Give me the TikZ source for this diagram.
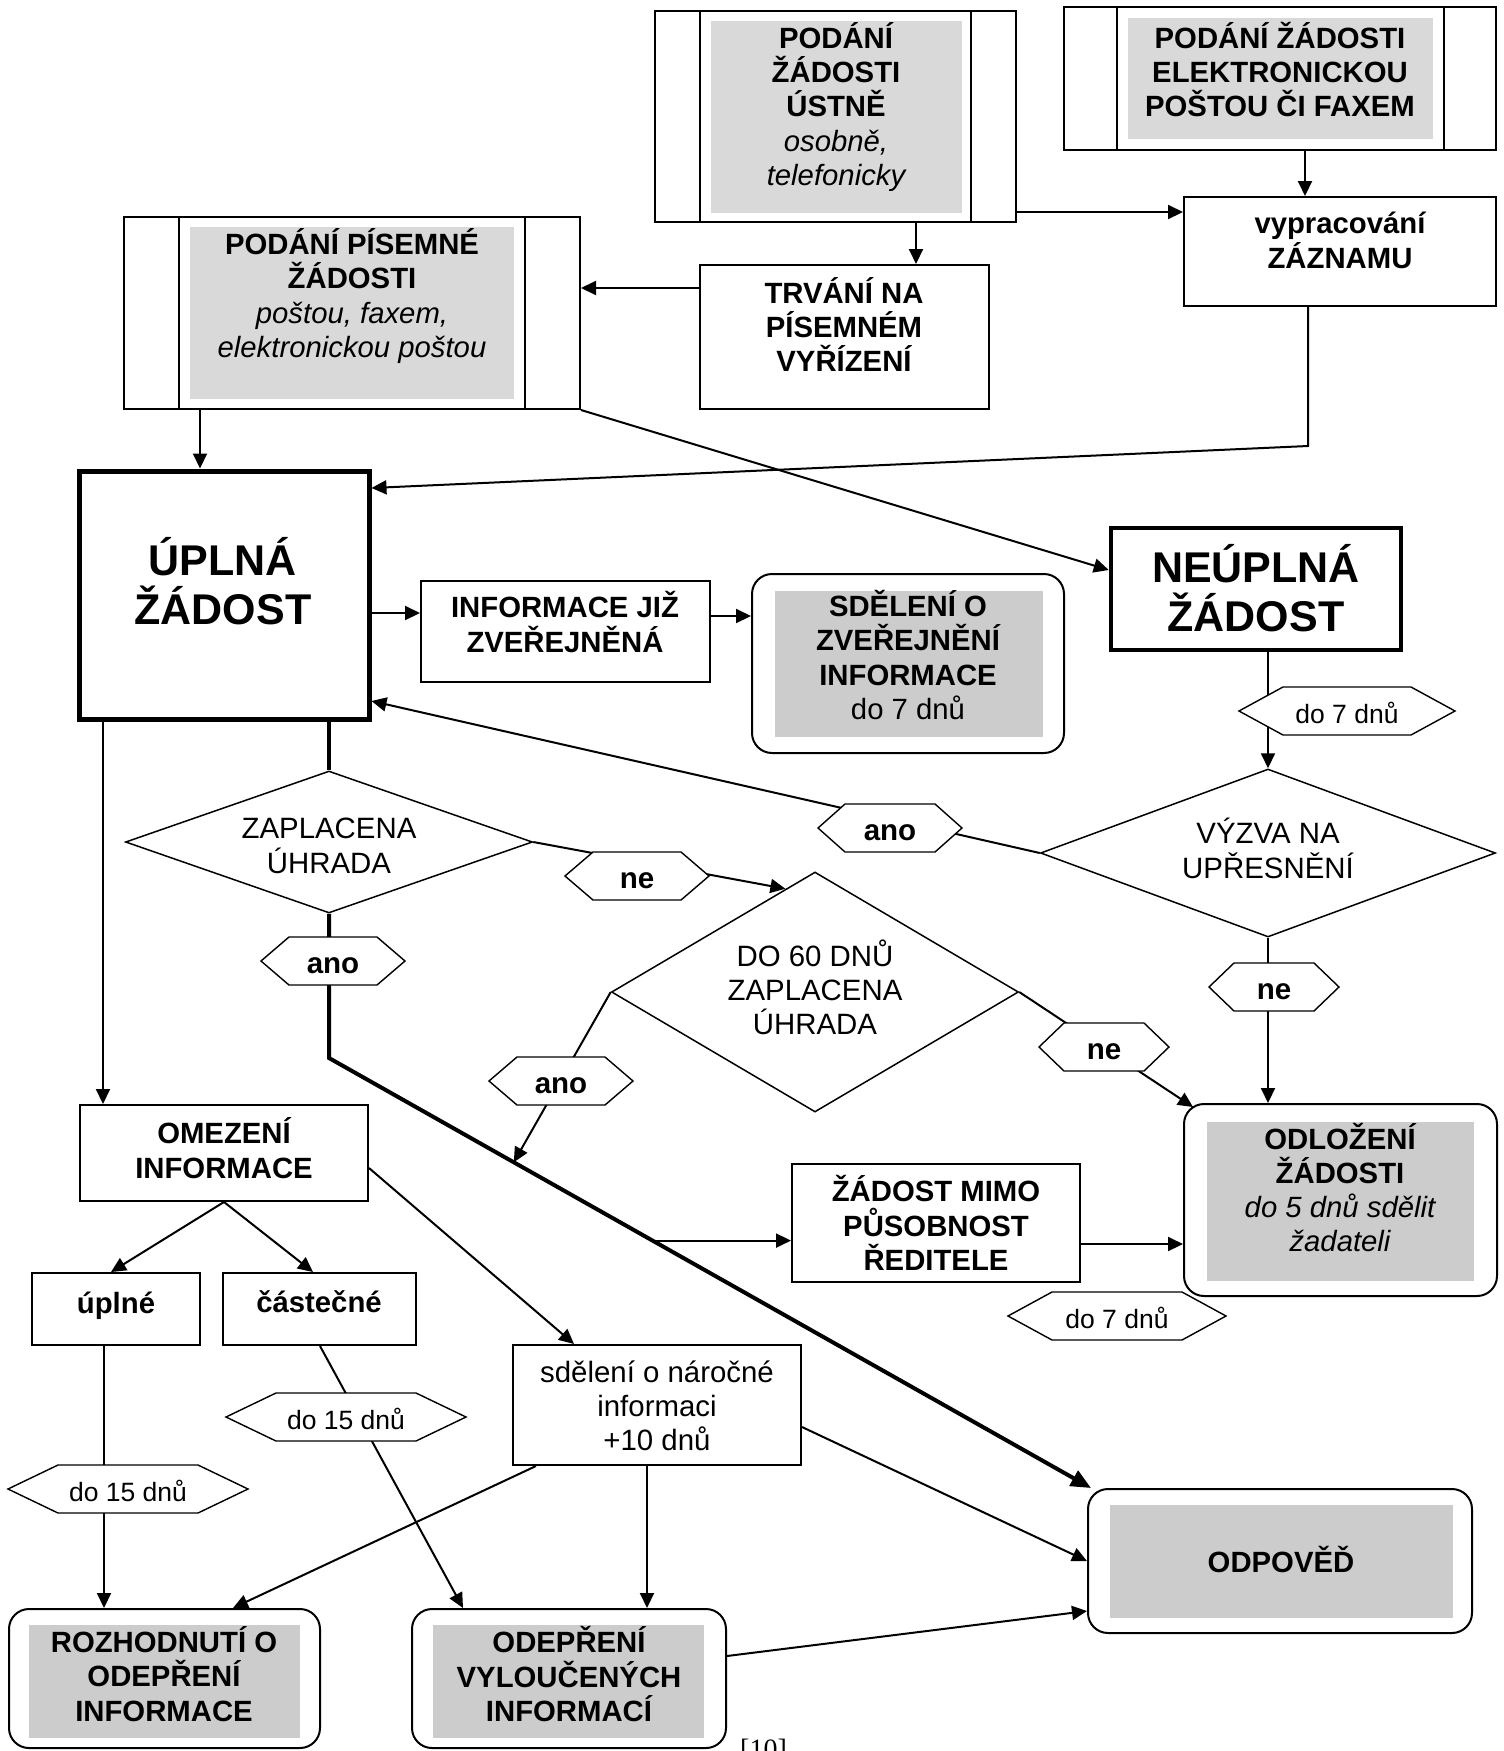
\documentclass[tikz,border=0pt]{standalone}
\usepackage{fontspec}
\setmainfont{Liberation Sans}
\newfontfamily\refserif{Liberation Serif}
\usetikzlibrary{arrows.meta,shapes.geometric,fit,calc}
\definecolor{graya}{HTML}{D9D9D9}
\definecolor{grayb}{HTML}{CCCCCC}
\tikzset{
  frame/.style={draw, line width=2pt, inner sep=0pt},
  rframe/.style={frame, rounded corners=20pt},
  heavyframe/.style={draw, line width=5pt, inner sep=0pt},
  bar/.style={line width=2pt},
  txt/.style={align=center, inner sep=0pt, font=\fontsize{29.3}{34.3}\selectfont\bfseries},
  rtxt/.style={align=center, inner sep=0pt, font=\fontsize{29.4}{34.3}\selectfont},
  bigtxt/.style={align=center, inner sep=0pt, font=\fontsize{43}{49}\selectfont\bfseries},
  hextxt/.style={inner sep=0pt, yshift=-2pt, font=\fontsize{26.5}{32}\selectfont},
  hexbold/.style={inner sep=0pt, yshift=-5pt, font=\fontsize{29.5}{34}\selectfont\bfseries},
  decision/.style={draw, diamond, line width=1.5pt, inner sep=0pt},
  arr/.style={line width=2pt, -{Triangle[length=15pt,width=14pt]}},
  fat/.style={line width=4pt},
  fatarr/.style={line width=4pt, -{Triangle[length=20pt,width=17pt]}},
  hexline/.style={draw, fill=white, line width=1.4pt}
}
\newcommand{\hexa}[7]{%
  \path[hexline] ({#2-#4},#3) -- ({#2-#4+#5},{#3-24}) -- ({#2+#4-#5},{#3-24}) -- ({#2+#4},#3) -- ({#2+#4-#5},{#3+24}) -- ({#2-#4+#5},{#3+24}) -- cycle;
  \node[#6] (#1) at (#2,#3) {#7};}
\begin{document}
\begin{tikzpicture}[x=1pt,y=-1pt]
\fill[white] (0,0) rectangle (1504,1751);
\useasboundingbox (0,0) rectangle (1504,1751);

% ---------- gray fills ----------
\fill[graya] (711,21) rectangle (962,213);
\fill[graya] (1128,18) rectangle (1433,139);
\fill[graya] (190,227) rectangle (514,399);
\fill[grayb] (775,591) rectangle (1043,737);
\fill[grayb] (1207,1122) rectangle (1474,1281);
\fill[grayb] (1110,1505) rectangle (1453,1618);
\fill[grayb] (29,1625) rectangle (300,1738);
\fill[grayb] (433,1625) rectangle (704,1738);

% ---------- frames ----------
\node[frame, fit={(655,11) (1016,222)}] (ustne) {};
\draw[bar] (700,11) -- (700,222); \draw[bar] (971,11) -- (971,222);
\node[frame, fit={(1064,7) (1496,150)}] (elektro) {};
\draw[bar] (1117,7) -- (1117,150); \draw[bar] (1444,7) -- (1444,150);
\node[frame, fit={(124,217) (580,409)}] (pisemne) {};
\draw[bar] (179,217) -- (179,409); \draw[bar] (525,217) -- (525,409);
\node[frame, fit={(1184,197) (1496,306)}] (vyprac) {};
\node[frame, fit={(700,265) (989,409)}] (trvani) {};
\node[heavyframe, fit={(79,471) (369,719)}] (upl) {};
\node[heavyframe, line width=4.5pt, fit={(1111,528) (1401,650)}] (neupl) {};
\node[frame, fit={(421,581) (710,682)}] (info) {};
\node[rframe, fit={(752,574) (1064,753)}] (sdel) {};
\node[rframe, fit={(1184,1104) (1497,1296)}] (odloz) {};
\node[frame, fit={(792,1164) (1080,1282)}] (mimo) {};
\node[rframe, fit={(1088,1489) (1472,1633)}] (odpov) {};
\node[frame, fit={(80,1105) (368,1201)}] (omez) {};
\node[frame, fit={(32,1273) (200,1345)}] (upne) {};
\node[frame, fit={(223,1273) (416,1345)}] (cast) {};
\node[frame, fit={(513,1345) (801,1465)}] (sdnar) {};
\node[rframe, fit={(9,1609) (320,1748)}] (rozh) {};
\node[rframe, fit={(412,1609) (726,1748)}] (odep) {};

% ---------- decisions ----------
\node[decision, minimum width=407pt, minimum height=142pt] (zap) at (329,842) {};
\node[decision, minimum width=407pt, minimum height=240pt] (d60) at (815,992) {};
\node[decision, minimum width=455pt, minimum height=168pt] (vyzva) at (1268,853) {};
\node[rtxt] (zap-t) at (329,846) {ZAPLACENA\\ÚHRADA};
\node[rtxt] (d60-t) at (815,987.5) {DO 60 DNŮ\\ZAPLACENA\\ÚHRADA};
\node[rtxt] (vyzva-t) at (1268,848.5) {VÝZVA NA\\UPŘESNĚNÍ};

% ---------- texts in boxes ----------
\node[txt] (ustne-t) at (836,107) {PODÁNÍ\\ŽÁDOSTI\\ÚSTNĚ\\{\mdseries\itshape osobně,}\\{\mdseries\itshape telefonicky}};
\node[txt] (elektro-t) at (1280,69.5) {PODÁNÍ ŽÁDOSTI\\ELEKTRONICKOU\\POŠTOU ČI FAXEM};
\node[txt] (vyprac-t) at (1340,240.5) {vypracování\\ZÁZNAMU};
\node[txt] (trvani-t) at (844,324.5) {TRVÁNÍ NA\\PÍSEMNÉM\\VYŘÍZENÍ};
\node[txt] (pisemne-t) at (352,296) {PODÁNÍ PÍSEMNÉ\\ŽÁDOSTI\\{\mdseries\itshape poštou, faxem,}\\{\mdseries\itshape elektronickou poštou}};
\node[bigtxt] (upl-t) at (223,581) {ÚPLNÁ\\ŽÁDOST};
\node[bigtxt] (neupl-t) at (1256,588) {NEÚPLNÁ\\ŽÁDOST};
\node[txt] (info-t) at (565,622) {INFORMACE JIŽ\\ZVEŘEJNĚNÁ};
\node[txt] (sdel-t) at (908,655) {SDĚLENÍ O\\ZVEŘEJNĚNÍ\\INFORMACE\\{\mdseries do 7 dnů}};
\node[txt] (odloz-t) at (1340,1187.5) {ODLOŽENÍ\\ŽÁDOSTI\\{\mdseries\itshape do 5 dnů sdělit}\\{\mdseries\itshape žadateli}};
\node[txt] (mimo-t) at (936,1223) {ŽÁDOST MIMO\\PŮSOBNOST\\ŘEDITELE};
\node[txt] (odpov-t) at (1281,1559) {ODPOVĚĎ};
\node[txt] (omez-t) at (224,1148) {OMEZENÍ\\INFORMACE};
\node[txt] (upne-t) at (116,1305.5) {úplné};
\node[txt] (cast-t) at (319,1302) {částečné};
\node[rtxt] (sdnar-t) at (657,1406) {sdělení o náročné\\informaci\\+10 dnů};
\node[txt] (rozh-t) at (164,1674) {ROZHODNUTÍ O\\ODEPŘENÍ\\INFORMACE};
\node[txt] (odep-t) at (569,1674) {ODEPŘENÍ\\VYLOUČENÝCH\\INFORMACÍ};
\node[anchor=base west, inner sep=0pt, font=\refserif\fontsize{28}{32}\selectfont] (ref) at (740,1758) {[10]};

% ---------- connectors ----------
\draw[arr] (1305,0 |- elektro.south) -- (1305,0 |- vyprac.north);
\draw[arr] (ustne.east |- 0,212) -- (vyprac.west |- 0,212);
\draw[arr] (916,0 |- ustne.south) -- (916,0 |- trvani.north);
\draw[arr] (trvani.west |- 0,288) -- (pisemne.east |- 0,288);
\draw[arr] (200,0 |- pisemne.south) -- (200,0 |- upl.north);
\draw[arr] (pisemne.south east) -- (neupl.west |- 0,570);
\coordinate (bend1) at (1308,446);
\draw[arr] (1308,0 |- vyprac.south) -- (bend1) -- (upl.east |- 0,488);
\draw[arr] (upl.east |- 0,613) -- (info.west |- 0,613);
\draw[arr] (info.east |- 0,616) -- (sdel.west |- 0,616);
\draw[arr] (vyzva.north |- neupl.south) -- (vyzva.north);
\draw[arr] (vyzva.west) -- (upl.east |- 0,701);
\draw[arr] (vyzva.south) -- (vyzva.south |- odloz.north);
\draw[fat] (zap.north |- upl.south) -- (zap.north);
\draw[arr] (zap.east) -- (d60.106);
\coordinate (bend2) at (329,1058);
\draw[fatarr] (zap.south) -- (bend2) -- ([xshift=4pt]odpov.north west);
\coordinate (t1) at ($(bend2)!0.2425!([xshift=4pt]odpov.north west)$);
\coordinate (t2) at ($(bend2)!0.4246!([xshift=4pt]odpov.north west)$);
\draw[arr] (d60.west) -- (t1);
\draw[arr] (t2) -- (mimo.west |- t2);
\draw[arr] (mimo.east |- 0,1244) -- (odloz.west |- 0,1244);
\draw[arr] (d60.east) -- ([xshift=10pt,yshift=-4pt]odloz.north west);
\draw[arr] (103,0 |- upl.south) -- (103,0 |- omez.north);
\draw[arr] (omez.south) -- (111,0 |- upne.north);
\draw[arr] (omez.south) -- (313,0 |- cast.north);
\draw[arr] (omez.east |- 0,1168) -- (574,0 |- sdnar.north);
\draw[arr] (104,0 |- upne.south) -- (104,0 |- rozh.north);
\draw[arr] (320,0 |- cast.south) -- (463,0 |- odep.north);
\draw[arr] (536,0 |- sdnar.south) -- (233,0 |- rozh.north);
\draw[arr] (647,0 |- sdnar.south) -- (647,0 |- odep.north);
\draw[arr] (sdnar.east |- 0,1427) -- (odpov.west |- 0,1561);
\draw[arr] (odep.east |- 0,1656) -- (odpov.west |- 0,1611);

% ---------- hexagon labels ----------
\hexa{h1}{1347}{711}{108}{44}{hextxt}{do 7 dnů}
\hexa{hano2}{890}{828}{72}{27}{hexbold}{ano}
\hexa{hne2}{1274}{987}{65}{25}{hexbold}{ne}
\hexa{hne1}{637}{876}{72}{28}{hexbold}{ne}
\hexa{hano1}{333}{961}{72}{28}{hexbold}{ano}
\hexa{hne3}{1104}{1047}{65}{25}{hexbold}{ne}
\hexa{hano3}{561}{1081}{72}{28}{hexbold}{ano}
\hexa{h2}{1117}{1316}{109}{44}{hextxt}{do 7 dnů}
\hexa{h4}{346}{1417}{120}{50}{hextxt}{do 15 dnů}
\hexa{h3}{128}{1489}{120}{50}{hextxt}{do 15 dnů}
\end{tikzpicture}
\end{document}
